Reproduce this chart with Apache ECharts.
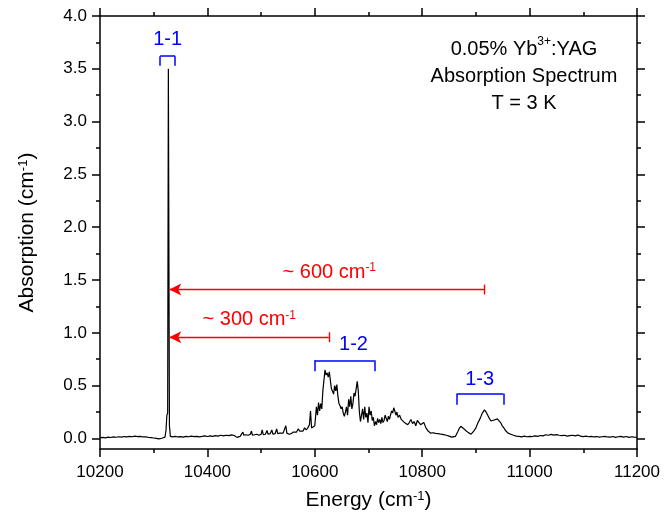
<!DOCTYPE html>
<html>
<head>
<meta charset="utf-8">
<script src="https://cdn.jsdelivr.net/npm/echarts@6/dist/echarts.min.js"></script>
<style>
html,body{margin:0;padding:0;background:#fff;}
#chart{width:664px;height:521px;}
</style>
</head>
<body>
<div id="chart"></div>
<script>
// ---- data (energy in cm^-1, absorption in cm^-1) ----
const spectrum = [
[10200,0.008],[10205,0.010],[10210,0.006],[10215,0.012],[10220,0.009],[10225,0.014],[10230,0.011],[10235,0.016],
[10240,0.012],[10245,0.018],[10250,0.015],[10255,0.020],[10260,0.016],[10265,0.022],[10270,0.018],[10275,0.020],
[10280,0.014],[10285,0.016],[10290,0.010],[10295,0.008],[10300,0.004],[10305,0.000],[10310,-0.004],[10315,0.002],
[10318,0.006],[10321,0.012],[10323,0.08],[10324.5,0.22],[10326,0.24],[10327.3,3.50],[10328.3,3.49],[10329.3,0.12],
[10331,0.020],[10335,0.015],[10340,0.020],[10345,0.014],[10350,0.018],[10355,0.013],[10360,0.020],[10365,0.016],
[10370,0.022],[10375,0.017],[10380,0.020],[10385,0.015],[10390,0.019],[10395,0.024],[10400,0.018],[10405,0.025],
[10410,0.020],[10415,0.027],[10420,0.022],[10425,0.030],[10430,0.024],[10435,0.030],[10440,0.026],[10445,0.034],
[10450,0.028],[10455,0.010],[10458,-0.005],[10461,0.020],[10464,0.035],[10466,0.060],[10468,0.030],[10472,0.035],
[10476,0.030],[10480,0.040],[10482,0.070],[10484,0.030],[10488,0.035],[10492,0.040],[10496,0.030],[10500,0.040],
[10502,0.080],[10504,0.035],[10508,0.040],[10511,0.075],[10513,0.040],[10517,0.045],[10520,0.080],[10522,0.040],
[10526,0.045],[10529,0.090],[10531,0.045],[10535,0.050],[10538,0.040],[10541,0.050],[10544,0.045],[10546,0.120],
[10548,0.050],[10552,0.040],[10556,0.045],[10560,0.060],[10563,0.075],[10566,0.060],[10569,0.090],[10572,0.070],
[10575,0.085],[10578,0.070],[10581,0.100],[10584,0.080],[10587,0.100],[10590,0.130],[10592,0.260],[10594,0.100],
[10597,0.090],[10600,0.120],[10603,0.300],[10605,0.220],[10607,0.340],[10609,0.260],[10611,0.330],[10613,0.280],
[10615,0.450],[10617,0.550],[10619,0.650],[10621,0.600],[10623,0.620],[10625,0.580],[10627,0.630],[10629,0.550],
[10631,0.470],[10633,0.460],[10635,0.420],[10637,0.500],[10639,0.450],[10641,0.510],[10643,0.400],[10645,0.330],
[10647,0.310],[10649,0.280],[10651,0.300],[10653,0.240],[10655,0.210],[10657,0.250],[10659,0.300],[10661,0.220],
[10663,0.370],[10665,0.300],[10667,0.400],[10669,0.280],[10671,0.330],[10673,0.430],[10675,0.400],[10677,0.470],
[10679,0.540],[10681,0.450],[10683,0.250],[10685,0.160],[10687,0.220],[10689,0.280],[10691,0.180],[10693,0.300],
[10695,0.200],[10697,0.240],[10699,0.150],[10701,0.300],[10703,0.220],[10705,0.260],[10707,0.170],[10709,0.200],
[10711,0.120],[10713,0.160],[10715,0.130],[10717,0.190],[10719,0.150],[10721,0.180],[10723,0.140],[10725,0.200],
[10727,0.150],[10729,0.170],[10731,0.220],[10733,0.190],[10735,0.160],[10737,0.210],[10739,0.180],[10741,0.220],
[10743,0.260],[10745,0.240],[10747,0.290],[10749,0.260],[10751,0.220],[10753,0.250],[10755,0.200],[10758,0.220],
[10761,0.180],[10764,0.170],[10767,0.150],[10770,0.160],[10773,0.130],[10776,0.150],[10779,0.180],[10782,0.140],
[10785,0.160],[10788,0.120],[10791,0.170],[10794,0.150],[10797,0.130],[10800,0.140],[10803,0.150],[10807,0.100],
[10811,0.070],[10816,0.050],[10820,0.054],[10825,0.048],[10830,0.045],[10835,0.040],[10840,0.036],[10845,0.030],
[10850,0.022],[10855,0.012],[10858,0.007],[10862,0.020],[10866,0.060],[10869,0.095],[10872,0.115],[10875,0.100],
[10878,0.090],[10882,0.070],[10886,0.055],[10891,0.040],[10896,0.070],[10900,0.100],[10904,0.150],[10908,0.190],
[10912,0.240],[10916,0.270],[10919,0.250],[10922,0.220],[10925,0.190],[10928,0.165],[10931,0.170],[10934,0.175],
[10937,0.185],[10940,0.185],[10943,0.170],[10946,0.150],[10949,0.120],[10952,0.100],[10956,0.070],[10960,0.050],
[10965,0.040],[10970,0.030],[10975,0.022],[10980,0.020],[10985,0.015],[10990,0.022],[10995,0.016],[11000,0.020],
[11005,0.018],[11010,0.025],[11015,0.020],[11020,0.028],[11025,0.024],[11030,0.035],[11035,0.030],[11040,0.038],
[11045,0.032],[11050,0.036],[11055,0.030],[11060,0.026],[11065,0.030],[11070,0.022],[11075,0.026],[11080,0.030],
[11085,0.024],[11090,0.032],[11095,0.022],[11100,0.018],[11105,0.022],[11110,0.016],[11115,0.020],[11120,0.014],
[11125,0.018],[11130,0.012],[11135,0.016],[11140,0.020],[11145,0.014],[11150,0.012],[11155,0.018],[11160,0.010],
[11165,0.016],[11170,0.020],[11175,0.012],[11180,0.018],[11185,0.010],[11190,0.016],[11195,0.012],[11200,0.010]
];

const yMajorTicks = [0.0, 0.5, 1.0, 1.5, 2.0, 2.5, 3.0, 3.5, 4.0];
const yMinorTicks = [0.25, 0.75, 1.25, 1.75, 2.25, 2.75, 3.25, 3.75];

// peak-group brackets
const bracketNames = ['1-1', '1-2', '1-3'];
const bracketStart = [10312, 10600, 10865];
const bracketEnd   = [10340, 10711, 10951];
const bracketTop   = [3.62, 0.74, 0.425];
const bracketFoot  = [3.53, 0.636, 0.32];
const bracketLabelX = [10326, 10672, 10907];
const bracketLabelY = [3.78, 0.89, 0.56];

// spacing arrows
const arrowNames = ['~ 600 cm{sup|-1}', '~ 300 cm{sup|-1}'];
const arrowFrom  = [10916, 10626];
const arrowTo    = [10329, 10329];
const arrowLevel = [1.41, 0.958];
const arrowLabelX = [10627, 10478];
const arrowLabelY = [1.575, 1.125];

const FONT = 'Liberation Sans, Arial, Helvetica, sans-serif';
const RED = '#ff0000';
const BLUE = '#0000ff';

const chart = echarts.init(document.getElementById('chart'), null, {renderer: 'canvas'});

const blueLines = [];
const bluePoints = [];
for (let i = 0; i < bracketNames.length; i++) {
  blueLines.push([{coord: [bracketStart[i], bracketFoot[i]]}, {coord: [bracketStart[i], bracketTop[i]]}]);
  blueLines.push([{coord: [bracketStart[i], bracketTop[i]]}, {coord: [bracketEnd[i], bracketTop[i]]}]);
  blueLines.push([{coord: [bracketEnd[i], bracketTop[i]]}, {coord: [bracketEnd[i], bracketFoot[i]]}]);
  bluePoints.push({coord: [bracketLabelX[i], bracketLabelY[i]], value: bracketNames[i]});
}
const redArrows = [];
const redBars = [];
const redPoints = [];
for (let i = 0; i < arrowNames.length; i++) {
  redArrows.push([{coord: [arrowFrom[i], arrowLevel[i]]}, {coord: [arrowTo[i], arrowLevel[i]]}]);
  redBars.push([{coord: [arrowFrom[i], arrowLevel[i] - 0.047]}, {coord: [arrowFrom[i], arrowLevel[i] + 0.047]}]);
  redPoints.push({coord: [arrowLabelX[i], arrowLabelY[i]], value: arrowNames[i]});
}

function yAxisDef(pos, vals, len, showLine, showLabel) {
  return {
    type: 'value', position: pos, min: -0.1, max: 4.0,
    splitLine: {show: false},
    axisLine: {show: showLine, onZero: false, lineStyle: {color: '#000', width: 1.5}},
    axisTick: {show: true, inside: false, length: len, customValues: vals, lineStyle: {color: '#000', width: 1.5}},
    axisLabel: {show: showLabel, customValues: vals, margin: 13, color: '#000', fontSize: 17, fontFamily: FONT,
      formatter: v => v.toFixed(1)}
  };
}

const option = {
  animation: false,
  backgroundColor: '#fff',
  grid: {left: 100, right: 27, top: 16, bottom: 72, containLabel: false},
  title: {
    text: '0.05% Yb{sup|3+}:YAG\nAbsorption Spectrum\nT = 3 K',
    left: 519, top: 31, textAlign: 'center',
    textStyle: {
      color: '#000', fontSize: 20, fontWeight: 'normal', fontFamily: FONT, lineHeight: 27,
      rich: {sup: {fontSize: 12, fontFamily: FONT, verticalAlign: 'top', lineHeight: 27}}
    }
  },
  xAxis: [
    {
      type: 'value', position: 'bottom', min: 10200, max: 11200, interval: 200,
      name: 'Energy (cm{sup|-1})', nameLocation: 'middle', nameGap: 41,
      nameTextStyle: {color: '#000', fontSize: 21, fontFamily: FONT, rich: {sup: {fontSize: 13, fontFamily: FONT, verticalAlign: 'top', lineHeight: 13}}},
      splitLine: {show: false},
      axisLine: {onZero: false, lineStyle: {color: '#000', width: 1.5}},
      axisTick: {inside: false, length: 8, lineStyle: {color: '#000', width: 1.5}},
      minorTick: {show: true, splitNumber: 2, length: 4, lineStyle: {color: '#000', width: 1.5}},
      axisLabel: {margin: 15, color: '#000', fontSize: 17, fontFamily: FONT, showMinLabel: true, showMaxLabel: true,
        formatter: v => String(v)}
    },
    {
      type: 'value', position: 'top', min: 10200, max: 11200, interval: 200,
      splitLine: {show: false},
      axisLine: {onZero: false, lineStyle: {color: '#000', width: 1.5}},
      axisTick: {inside: false, length: 8, lineStyle: {color: '#000', width: 1.5}},
      minorTick: {show: true, splitNumber: 2, length: 4, lineStyle: {color: '#000', width: 1.5}},
      axisLabel: {show: false}
    }
  ],
  yAxis: [
    Object.assign(yAxisDef('left', yMajorTicks, 8, true, true), {
      name: 'Absorption (cm{sup|-1})', nameLocation: 'middle', nameGap: 62, nameRotate: 90,
      nameTextStyle: {color: '#000', fontSize: 21, fontFamily: FONT, rich: {sup: {fontSize: 13, fontFamily: FONT, verticalAlign: 'top', lineHeight: 13}}}
    }),
    yAxisDef('left', yMinorTicks, 4, false, false),
    yAxisDef('right', yMajorTicks, 8, true, false),
    yAxisDef('right', yMinorTicks, 4, false, false)
  ],
  series: [
    {
      type: 'line', xAxisIndex: 0, yAxisIndex: 0,
      data: spectrum, showSymbol: false, symbol: 'none',
      lineStyle: {color: '#000', width: 1.2}, z: 3
    },
    {
      type: 'line', xAxisIndex: 0, yAxisIndex: 0, data: [], silent: true, color: BLUE,
      markLine: {
        silent: true, symbol: ['none', 'none'], animation: false,
        label: {show: false},
        lineStyle: {color: BLUE, width: 1.5, type: 'solid'},
        emphasis: {disabled: true},
        data: blueLines
      },
      markPoint: {
        silent: true, symbol: 'circle', symbolSize: 0, animation: false,
        label: {show: true, position: 'inside', formatter: p => p.value, color: BLUE, fontSize: 20, fontFamily: FONT},
        data: bluePoints
      }
    },
    {
      type: 'line', xAxisIndex: 0, yAxisIndex: 0, data: [], silent: true, color: RED,
      markLine: {
        silent: true, symbol: ['none', 'arrow'], symbolSize: [9, 12], animation: false,
        label: {show: false},
        lineStyle: {color: RED, width: 1.4, type: 'solid'},
        emphasis: {disabled: true},
        data: redArrows
      },
      markPoint: {
        silent: true, symbol: 'circle', symbolSize: 0, animation: false,
        label: {show: true, position: 'inside', formatter: p => p.value, color: RED, fontSize: 20, fontFamily: FONT,
          rich: {sup: {fontSize: 12, fontFamily: FONT, verticalAlign: 'top', lineHeight: 12, color: RED}}},
        data: redPoints
      }
    },
    {
      type: 'line', xAxisIndex: 0, yAxisIndex: 0, data: [], silent: true, color: RED,
      markLine: {
        silent: true, symbol: ['none', 'none'], animation: false,
        label: {show: false},
        lineStyle: {color: RED, width: 1.4, type: 'solid'},
        emphasis: {disabled: true},
        data: redBars
      }
    }
  ]
};
chart.setOption(option);
</script>
</body>
</html>
